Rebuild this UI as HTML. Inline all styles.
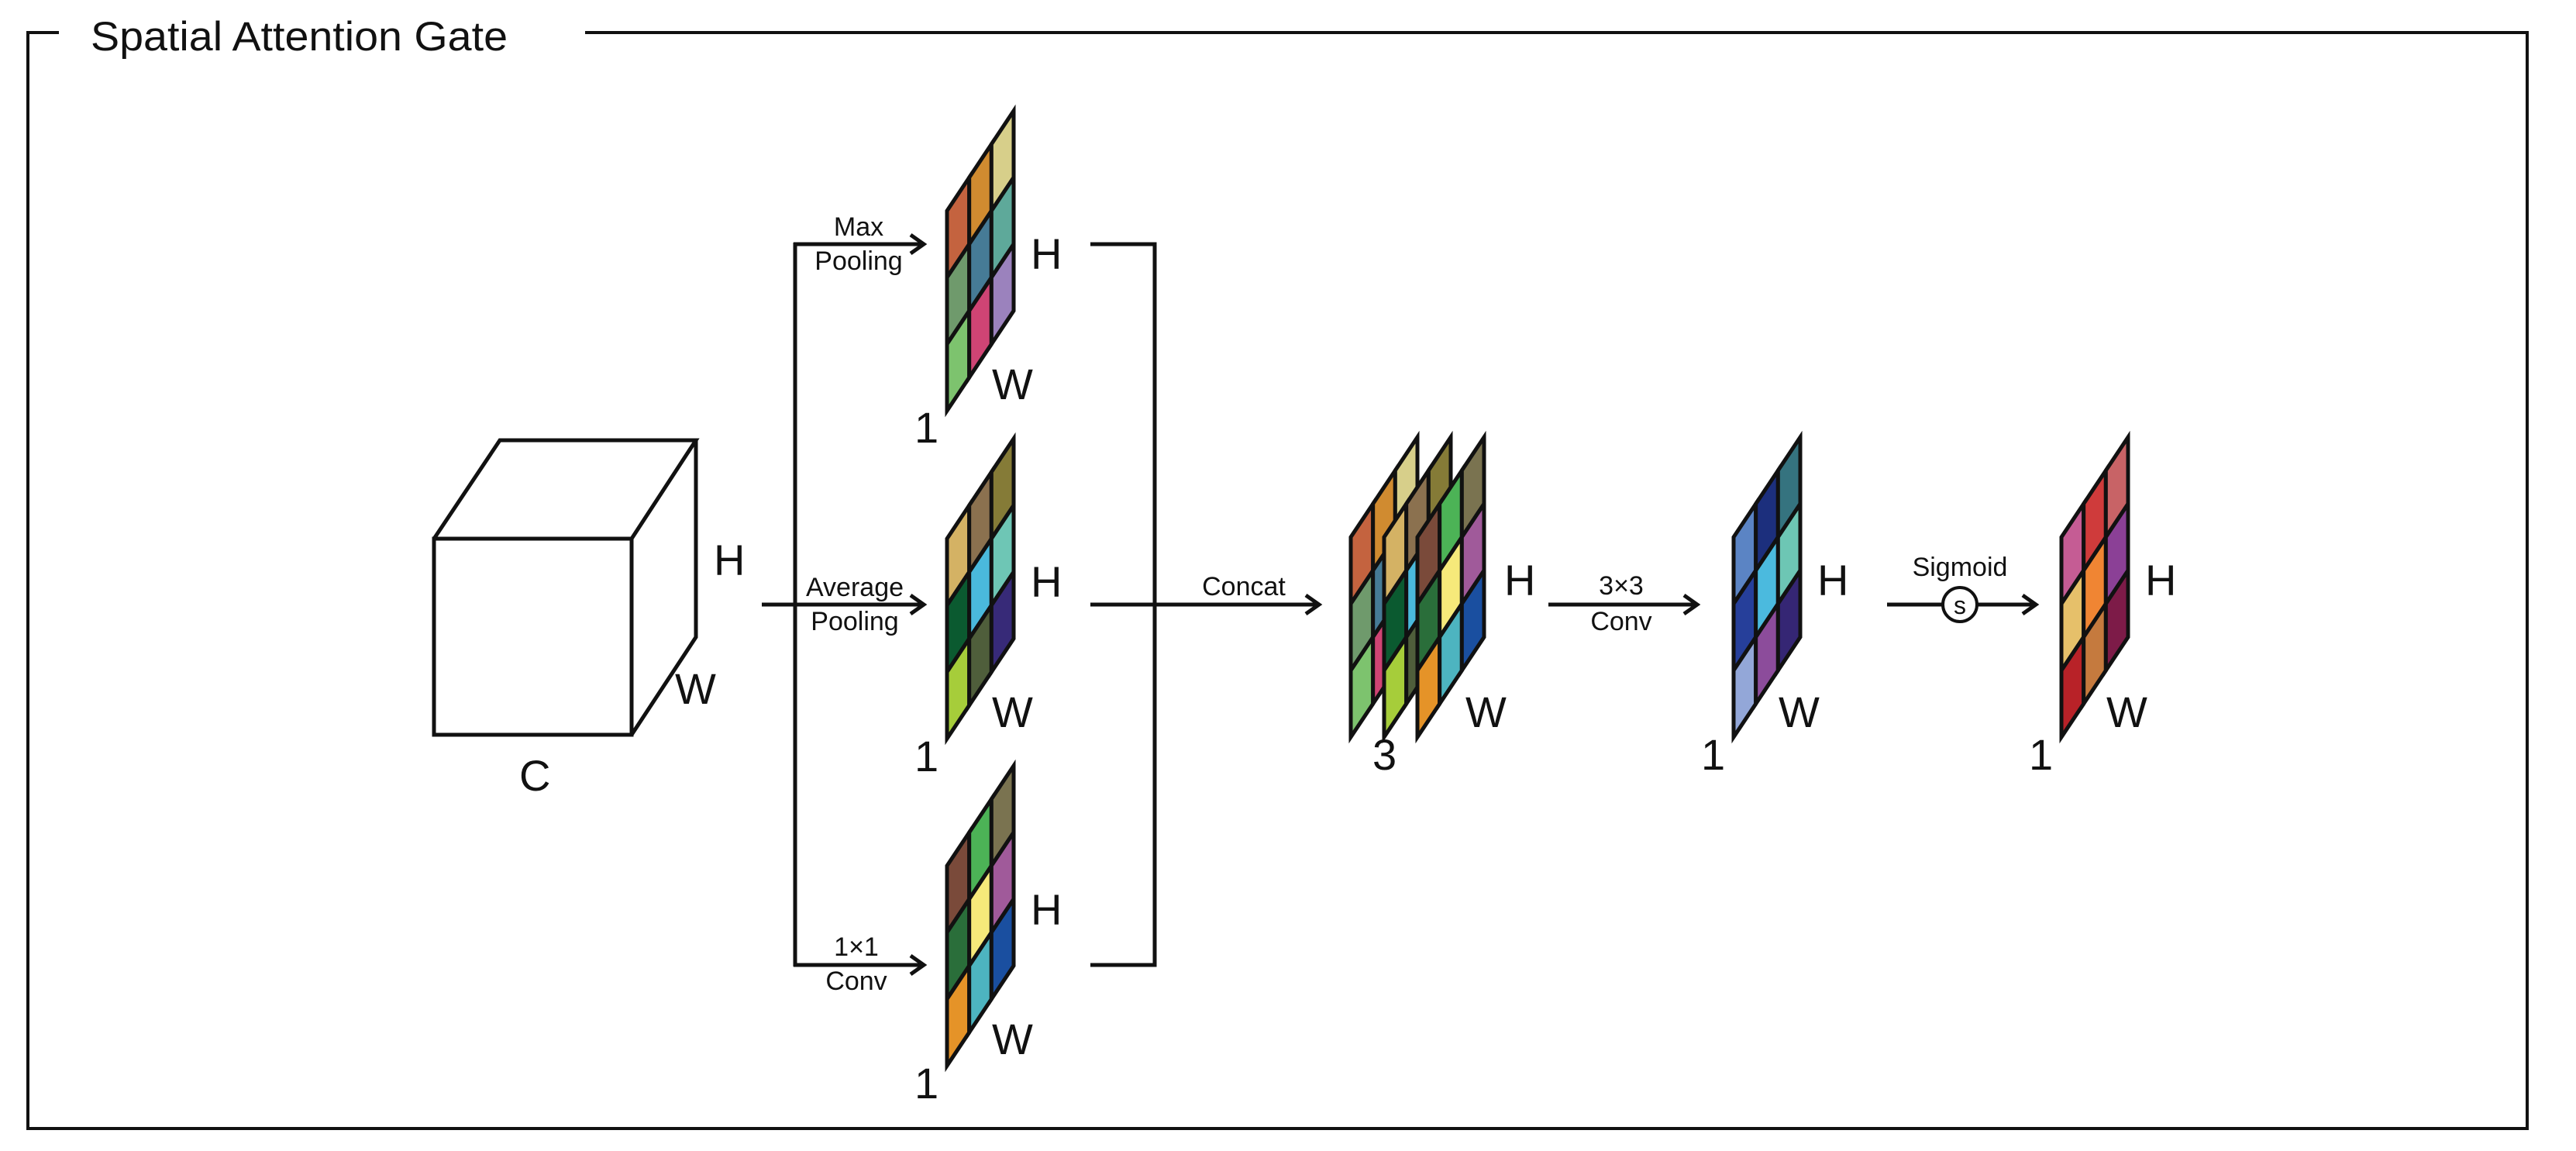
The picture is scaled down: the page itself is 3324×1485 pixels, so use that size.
<!DOCTYPE html>
<html><head><meta charset="utf-8"><style>
html,body{margin:0;padding:0;background:#fff;}
svg{display:block;}
text{font-family:"Liberation Sans",Arial,sans-serif;fill:#111;}
.big{font-size:56px;}
.sm{font-size:34px;text-anchor:middle;}
.cell{stroke:#111;stroke-width:5;vector-effect:non-scaling-stroke;stroke-linejoin:miter;}
.ln{stroke:#111;stroke-width:5;fill:none;}
</style></head><body>
<svg width="3324" height="1485" viewBox="0 0 3324 1485" xmlns="http://www.w3.org/2000/svg">
<!-- frame -->
<polyline class="ln" style="stroke-width:4" points="755,42 3261,42 3261,1456 36,1456 36,42 76,42"/>
<text x="117" y="65" style="font-size:53px" textLength="538" lengthAdjust="spacingAndGlyphs">Spatial Attention Gate</text>

<!-- cube -->
<g class="ln" style="stroke-linejoin:miter">
<rect x="560" y="695" width="255" height="253"/>
<polyline points="560,695 645,568 898,568 815,695"/>
<polyline points="898,568 898,822 815,948"/>
</g>
<text class="big" x="921" y="742">H</text>
<text class="big" x="871" y="908">W</text>
<text class="big" x="670" y="1020">C</text>

<!-- split lines -->
<g class="ln">
<line x1="983" y1="780" x2="1190" y2="780"/>
<line x1="1026" y1="313" x2="1026" y2="1247"/>
<line x1="1024" y1="315" x2="1190" y2="315"/>
<line x1="1024" y1="1245" x2="1190" y2="1245"/>
<polyline points="1175,303 1192,315 1175,327"/>
<polyline points="1175,768 1192,780 1175,792"/>
<polyline points="1175,1233 1192,1245 1175,1257"/>
<polyline points="1407,315 1490,315 1490,1245 1407,1245"/>
<line x1="1407" y1="780" x2="1700" y2="780"/>
<polyline points="1685,768 1702,780 1685,792"/>
<line x1="1998" y1="780" x2="2188" y2="780"/>
<polyline points="2173,768 2190,780 2173,792"/>
<line x1="2435" y1="780" x2="2507" y2="780"/>
<line x1="2551" y1="780" x2="2625" y2="780"/>
<polyline points="2610,768 2627,780 2610,792"/>
<circle cx="2529" cy="780" r="22" style="stroke-width:4"/>
</g>
<text class="sm" x="2529" y="792" style="font-size:32px">s</text>

<text class="sm" x="1108" y="304">Max</text>
<text class="sm" x="1108" y="348">Pooling</text>
<text class="sm" x="1103" y="769">Average</text>
<text class="sm" x="1103" y="813">Pooling</text>
<text class="sm" x="1105" y="1233">1×1</text>
<text class="sm" x="1105" y="1277">Conv</text>
<text class="sm" x="1605" y="768">Concat</text>
<text class="sm" x="2092" y="767">3×3</text>
<text class="sm" x="2092" y="813">Conv</text>
<text class="sm" x="2529" y="743">Sigmoid</text>

<!-- maps: local coords 86x258, skewY -1.5 -->
<!-- max pooling -->
<g transform="matrix(1,-1.5,0,1,1222,272)">
<rect class="cell" x="0" y="0" width="28.67" height="86" fill="#c4633f"/>
<rect class="cell" x="0" y="86" width="28.67" height="86" fill="#6f9a6c"/>
<rect class="cell" x="0" y="172" width="28.67" height="86" fill="#7dc36e"/>
<rect class="cell" x="28.67" y="0" width="28.67" height="86" fill="#d08b30"/>
<rect class="cell" x="28.67" y="86" width="28.67" height="86" fill="#467b96"/>
<rect class="cell" x="28.67" y="172" width="28.67" height="86" fill="#cf4474"/>
<rect class="cell" x="57.33" y="0" width="28.67" height="86" fill="#d7cf8a"/>
<rect class="cell" x="57.33" y="86" width="28.67" height="86" fill="#5ea99a"/>
<rect class="cell" x="57.33" y="172" width="28.67" height="86" fill="#9b82bd"/>
</g>
<text class="big" x="1330" y="347">H</text>
<text class="big" x="1280" y="515">W</text>
<text class="big" x="1180" y="571">1</text>

<!-- average pooling -->
<g transform="matrix(1,-1.5,0,1,1222,695)">
<rect class="cell" x="0" y="0" width="28.67" height="86" fill="#d4b264"/>
<rect class="cell" x="0" y="86" width="28.67" height="86" fill="#0b5a30"/>
<rect class="cell" x="0" y="172" width="28.67" height="86" fill="#a6cd3a"/>
<rect class="cell" x="28.67" y="0" width="28.67" height="86" fill="#8b714f"/>
<rect class="cell" x="28.67" y="86" width="28.67" height="86" fill="#4ab9dc"/>
<rect class="cell" x="28.67" y="172" width="28.67" height="86" fill="#4f5e3b"/>
<rect class="cell" x="57.33" y="0" width="28.67" height="86" fill="#857b37"/>
<rect class="cell" x="57.33" y="86" width="28.67" height="86" fill="#6ec6b5"/>
<rect class="cell" x="57.33" y="172" width="28.67" height="86" fill="#372a78"/>
</g>
<text class="big" x="1330" y="770">H</text>
<text class="big" x="1280" y="938">W</text>
<text class="big" x="1180" y="995">1</text>

<!-- 1x1 conv -->
<g transform="matrix(1,-1.5,0,1,1222,1117)">
<rect class="cell" x="0" y="0" width="28.67" height="86" fill="#7a4a3a"/>
<rect class="cell" x="0" y="86" width="28.67" height="86" fill="#2a6e3a"/>
<rect class="cell" x="0" y="172" width="28.67" height="86" fill="#e59328"/>
<rect class="cell" x="28.67" y="0" width="28.67" height="86" fill="#4cb356"/>
<rect class="cell" x="28.67" y="86" width="28.67" height="86" fill="#f6e97a"/>
<rect class="cell" x="28.67" y="172" width="28.67" height="86" fill="#4db4c0"/>
<rect class="cell" x="57.33" y="0" width="28.67" height="86" fill="#7a7350"/>
<rect class="cell" x="57.33" y="86" width="28.67" height="86" fill="#a05a9a"/>
<rect class="cell" x="57.33" y="172" width="28.67" height="86" fill="#1a4fa0"/>
</g>
<text class="big" x="1330" y="1193">H</text>
<text class="big" x="1280" y="1360">W</text>
<text class="big" x="1180" y="1417">1</text>

<!-- concat stack -->
<g transform="matrix(1,-1.5,0,1,1743,693)">
<rect class="cell" x="0" y="0" width="28.67" height="86" fill="#c4633f"/>
<rect class="cell" x="0" y="86" width="28.67" height="86" fill="#6f9a6c"/>
<rect class="cell" x="0" y="172" width="28.67" height="86" fill="#7dc36e"/>
<rect class="cell" x="28.67" y="0" width="28.67" height="86" fill="#d08b30"/>
<rect class="cell" x="28.67" y="86" width="28.67" height="86" fill="#467b96"/>
<rect class="cell" x="28.67" y="172" width="28.67" height="86" fill="#cf4474"/>
<rect class="cell" x="57.33" y="0" width="28.67" height="86" fill="#d7cf8a"/>
<rect class="cell" x="57.33" y="86" width="28.67" height="86" fill="#5ea99a"/>
<rect class="cell" x="57.33" y="172" width="28.67" height="86" fill="#9b82bd"/>
</g>
<g transform="matrix(1,-1.5,0,1,1786,693)">
<rect class="cell" x="0" y="0" width="28.67" height="86" fill="#d4b264"/>
<rect class="cell" x="0" y="86" width="28.67" height="86" fill="#0b5a30"/>
<rect class="cell" x="0" y="172" width="28.67" height="86" fill="#a6cd3a"/>
<rect class="cell" x="28.67" y="0" width="28.67" height="86" fill="#8b714f"/>
<rect class="cell" x="28.67" y="86" width="28.67" height="86" fill="#4ab9dc"/>
<rect class="cell" x="28.67" y="172" width="28.67" height="86" fill="#4f5e3b"/>
<rect class="cell" x="57.33" y="0" width="28.67" height="86" fill="#857b37"/>
<rect class="cell" x="57.33" y="86" width="28.67" height="86" fill="#6ec6b5"/>
<rect class="cell" x="57.33" y="172" width="28.67" height="86" fill="#372a78"/>
</g>
<g transform="matrix(1,-1.5,0,1,1829,693)">
<rect class="cell" x="0" y="0" width="28.67" height="86" fill="#7a4a3a"/>
<rect class="cell" x="0" y="86" width="28.67" height="86" fill="#2a6e3a"/>
<rect class="cell" x="0" y="172" width="28.67" height="86" fill="#e59328"/>
<rect class="cell" x="28.67" y="0" width="28.67" height="86" fill="#4cb356"/>
<rect class="cell" x="28.67" y="86" width="28.67" height="86" fill="#f6e97a"/>
<rect class="cell" x="28.67" y="172" width="28.67" height="86" fill="#4db4c0"/>
<rect class="cell" x="57.33" y="0" width="28.67" height="86" fill="#7a7350"/>
<rect class="cell" x="57.33" y="86" width="28.67" height="86" fill="#a05a9a"/>
<rect class="cell" x="57.33" y="172" width="28.67" height="86" fill="#1a4fa0"/>
</g>
<text class="big" x="1941" y="768">H</text>
<text class="big" x="1891" y="938">W</text>
<text class="big" x="1771" y="993">3</text>

<!-- conv output -->
<g transform="matrix(1,-1.5,0,1,2237,693)">
<rect class="cell" x="0" y="0" width="28.67" height="86" fill="#5b84c4"/>
<rect class="cell" x="0" y="86" width="28.67" height="86" fill="#263f9a"/>
<rect class="cell" x="0" y="172" width="28.67" height="86" fill="#93a7d8"/>
<rect class="cell" x="28.67" y="0" width="28.67" height="86" fill="#1c2f7d"/>
<rect class="cell" x="28.67" y="86" width="28.67" height="86" fill="#4bbade"/>
<rect class="cell" x="28.67" y="172" width="28.67" height="86" fill="#8c4c9b"/>
<rect class="cell" x="57.33" y="0" width="28.67" height="86" fill="#35737f"/>
<rect class="cell" x="57.33" y="86" width="28.67" height="86" fill="#6dc6b4"/>
<rect class="cell" x="57.33" y="172" width="28.67" height="86" fill="#352674"/>
</g>
<text class="big" x="2345" y="768">H</text>
<text class="big" x="2295" y="938">W</text>
<text class="big" x="2195" y="993">1</text>

<!-- sigmoid output -->
<g transform="matrix(1,-1.5,0,1,2660,693)">
<rect class="cell" x="0" y="0" width="28.67" height="86" fill="#c55c94"/>
<rect class="cell" x="0" y="86" width="28.67" height="86" fill="#e6c06a"/>
<rect class="cell" x="0" y="172" width="28.67" height="86" fill="#b82228"/>
<rect class="cell" x="28.67" y="0" width="28.67" height="86" fill="#cf3b3b"/>
<rect class="cell" x="28.67" y="86" width="28.67" height="86" fill="#f08533"/>
<rect class="cell" x="28.67" y="172" width="28.67" height="86" fill="#c57a3e"/>
<rect class="cell" x="57.33" y="0" width="28.67" height="86" fill="#c86366"/>
<rect class="cell" x="57.33" y="86" width="28.67" height="86" fill="#8b4096"/>
<rect class="cell" x="57.33" y="172" width="28.67" height="86" fill="#7d1b48"/>
</g>
<text class="big" x="2768" y="768">H</text>
<text class="big" x="2718" y="938">W</text>
<text class="big" x="2618" y="993">1</text>
</svg>
</body></html>
